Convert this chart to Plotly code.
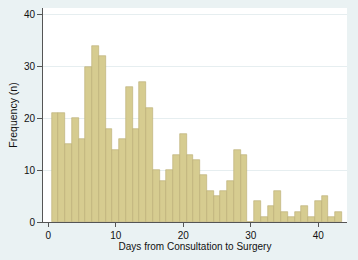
import plotly.graph_objects as go

days = list(range(1, 44))
freq = [21, 21, 15, 20, 16, 30, 34, 32, 18, 14,
        16, 26, 18, 27, 22, 10, 8, 10, 13, 17,
        13, 12, 9, 6, 5, 6, 8, 14, 13, 0,
        4, 1, 3, 6, 2, 1, 2, 3, 1, 4,
        5, 1, 2]
x_ticks = [0, 10, 20, 30, 40]
y_ticks = [0, 10, 20, 30, 40]

font = "Liberation Sans, Arial, sans-serif"

fig = go.Figure(go.Bar(
    x=days, y=freq, width=1,
    marker=dict(color="#D6CC90", line=dict(color="#B8AD72", width=0.6)),
    hoverinfo="skip",
))

fig.update_layout(
    width=358, height=260,
    margin=dict(l=43, r=11, t=8, b=38),
    paper_bgcolor="#EAF2F3",
    plot_bgcolor="#FFFFFF",
    bargap=0,
    showlegend=False,
    font=dict(family=font, size=10, color="#111"),
)
fig.update_xaxes(
    range=[-0.79, 44.25], tickvals=x_ticks,
    ticks="outside", ticklen=4, tickcolor="#555",
    showline=True, linecolor="#555", linewidth=1,
    showgrid=False, zeroline=False,
    title=dict(text="Days from Consultation to Surgery", font=dict(size=10), standoff=2),
)
fig.update_yaxes(
    range=[0, 41.35], tickvals=y_ticks,
    ticks="outside", ticklen=5, tickcolor="#555",
    showline=True, linecolor="#555", linewidth=1,
    showgrid=True, gridcolor="#E6EEF0", gridwidth=1, zeroline=False,
    title=dict(text="Frequency (n)", font=dict(size=10.5), standoff=4),
)

fig.write_html(
    "out.html",
    config={"displayModeBar": False},
    post_script="document.body.style.margin='0';document.body.style.background='#EAF2F3';",
)
